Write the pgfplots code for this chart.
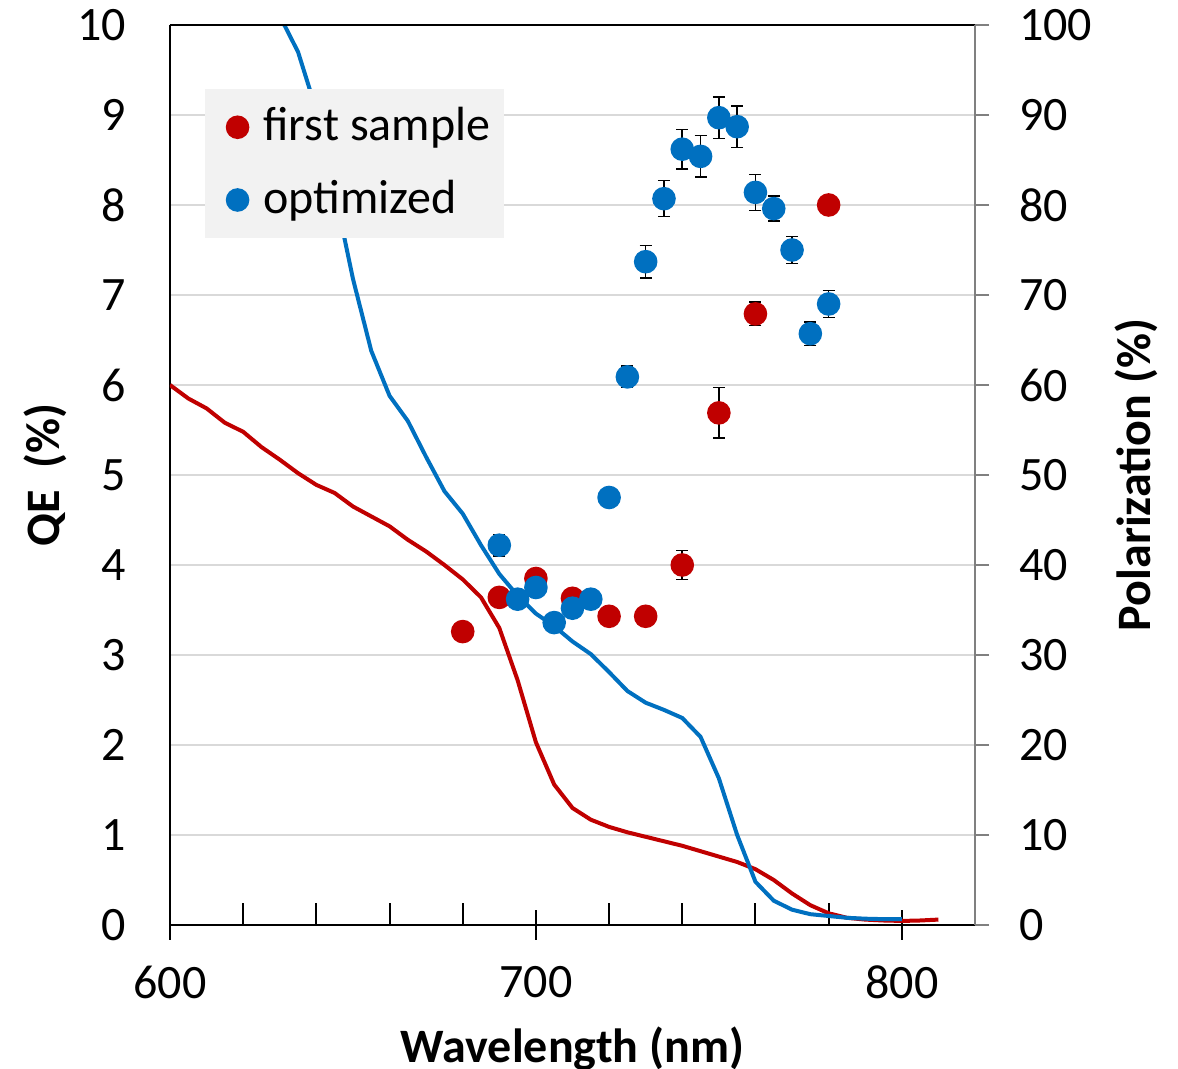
\documentclass[border=0pt]{standalone}
\usepackage{fontspec}
\setmainfont{Carlito}
\usepackage{pgfplots}
\pgfplotsset{compat=1.18}
\usetikzlibrary{calc}
\definecolor{qered}{HTML}{C00000}
\definecolor{qeblue}{HTML}{0070C0}
\definecolor{gridgray}{HTML}{D9D9D9}
\definecolor{leggray}{HTML}{F2F2F2}

\begin{document}
\begin{tikzpicture}
\pgfplotsset{
  every axis/.append style={
    scale only axis, width=201.25pt, height=225pt,
    xmin=600, xmax=820,
    font=\fontsize{12}{14.4}\selectfont,
    /pgf/number format/assume math mode=true,
  }
}
% left axis: QE curves
\begin{axis}[name=qe,
  ymin=0, ymax=10,
  axis x line*=bottom, axis y line*=left,
  axis line style={black, line width=0.5pt},
  xtick={600,700,800},
  minor xtick={620,640,660,680,720,740,760,780},
  tick align=center, major tick length=7.5pt, minor tick length=5.5pt,
  minor x tick style={yshift=2.75pt},
  x tick style={black, line width=0.5pt},
  ytick={0,...,10}, y tick style={draw=none},
  yticklabel style={xshift=-3.75pt},
  xticklabel style={yshift=-3pt},
  ymajorgrids, grid style={gridgray, line width=0.6pt},
  xlabel={\bfseries Wavelength (nm)},
  ylabel={\bfseries QE\ \ (\%)},
  xlabel style={at={(axis description cs:0.5,-0.137)}, anchor=center},
  ylabel style={at={(axis description cs:-0.155,0.5)}, anchor=center},
]
\addplot[qered, line width=1pt, no marks] coordinates {
(600,6.00) (605,5.85) (610,5.74) (615,5.58) (620,5.48) (625,5.31) (630,5.17)
(635,5.02) (640,4.89) (645,4.80) (650,4.65) (655,4.54) (660,4.43) (665,4.28)
(670,4.15) (675,4.00) (680,3.84) (685,3.64) (690,3.30) (695,2.72) (700,2.03)
(705,1.56) (710,1.30) (715,1.17) (720,1.09) (725,1.03) (730,0.98) (735,0.93)
(740,0.88) (745,0.82) (750,0.76) (755,0.70) (760,0.62) (765,0.50) (770,0.35)
(775,0.22) (780,0.13) (785,0.08) (790,0.06) (795,0.05) (800,0.045) (805,0.05)
(810,0.06)
};
\addplot[qeblue, line width=1pt, no marks] coordinates {
(630,10.1) (635,9.70) (640,9.05) (645,8.15) (650,7.18) (655,6.38) (660,5.88)
(665,5.60) (670,5.20) (675,4.82) (680,4.57) (685,4.22) (690,3.90) (695,3.66)
(700,3.46) (705,3.32) (710,3.15) (715,3.01) (720,2.81) (725,2.60) (730,2.47)
(735,2.39) (740,2.30) (745,2.09) (750,1.63) (755,1.00) (760,0.48) (765,0.27)
(770,0.17) (775,0.12) (780,0.10) (785,0.08) (790,0.07) (795,0.065) (800,0.065)
};
\end{axis}
% right axis: polarization points
\begin{axis}[
  ymin=0, ymax=100,
  axis x line*=top, axis y line*=right,
  x axis line style={black, line width=0.5pt},
  y axis line style={gray, line width=0.5pt},
  xtick=\empty,
  ytick={0,10,...,100},
  tick align=outside, major tick length=3.5pt,
  y tick style={gray, line width=0.5pt},
  yticklabel style={xshift=4pt},
  ylabel={\bfseries Polarization (\%)},
  ylabel style={at={(axis description cs:1.201,0.5)}, anchor=center},
  legend style={at={(axis description cs:0.0422,0.93)}, anchor=north west,
    fill=leggray, draw=none, inner xsep=2.5pt, inner ysep=3.7pt,
    row sep=6.35pt, column sep=2.75pt,
    nodes={inner xsep=1pt, inner ysep=1pt},
    font=\fontsize{12}{14.4}\selectfont},
  legend cell align=left,
  legend image code/.code={\path (-5.5pt,0pt); \draw[#1] plot coordinates {(0pt,0pt)};},
  error bars/error mark=|,
  error bars/error bar style={black, line width=0.4pt},
  error bars/error mark options={black, mark size=1.5pt, line width=0.4pt},
]
\addplot[only marks, mark=*, mark size=2.75pt, color=qered,
  mark options={draw=qered, fill=qered},
  error bars/.cd, y dir=both, y explicit] coordinates {
(680,32.6) +- (0,1.0)
(690,36.4) +- (0,0.3)
(700,38.5) +- (0,0.3)
(710,36.3) +- (0,0.3)
(720,34.3) +- (0,0.3)
(730,34.3) +- (0,0.3)
(740,40.0) +- (0,1.6)
(750,56.9) +- (0,2.8)
(760,67.9) +- (0,1.3)
(780,80.0) +- (0,0.3)
};
\addlegendentry{first sample}
\addplot[only marks, mark=*, mark size=2.75pt, color=qeblue,
  mark options={draw=qeblue, fill=qeblue},
  error bars/.cd, y dir=both, y explicit] coordinates {
(690,42.2) +- (0,1.2)
(695,36.2) +- (0,0.5)
(700,37.5) +- (0,0.5)
(705,33.6) +- (0,0.5)
(710,35.2) +- (0,0.5)
(715,36.2) +- (0,0.5)
(720,47.5) +- (0,0.5)
(725,60.9) +- (0,1.2)
(730,73.7) +- (0,1.8)
(735,80.7) +- (0,2.0)
(740,86.2) +- (0,2.2)
(745,85.4) +- (0,2.3)
(750,89.7) +- (0,2.3)
(755,88.7) +- (0,2.3)
(760,81.4) +- (0,2.0)
(765,79.6) +- (0,1.4)
(770,75.0) +- (0,1.5)
(775,65.7) +- (0,1.3)
(780,69.0) +- (0,1.5)
};
\addlegendentry{optimized}
\end{axis}
\pgfresetboundingbox
\useasboundingbox ($(qe.south west)+(-42.5pt,-36pt)$) rectangle ($(qe.south west)+(252pt,231.25pt)$);
\end{tikzpicture}
\end{document}
